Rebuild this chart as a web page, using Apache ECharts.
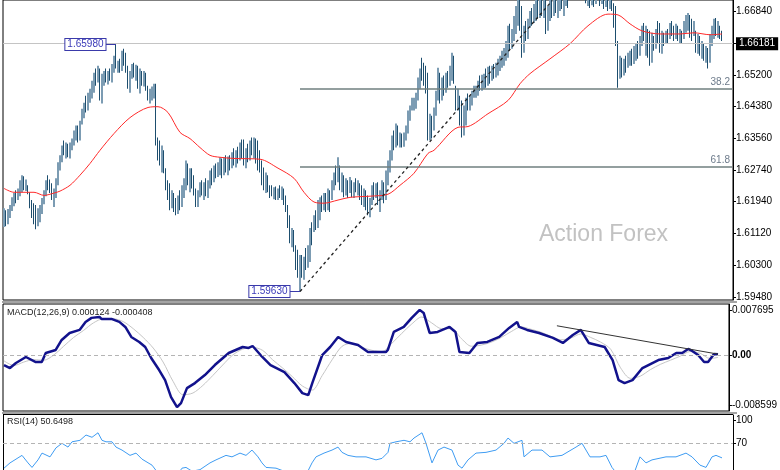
<!DOCTYPE html>
<html><head><meta charset="utf-8">
<script src="https://cdn.jsdelivr.net/npm/echarts@6/dist/echarts.min.js"></script>
<style>html,body{margin:0;padding:0;background:#fff}#c{width:780px;height:470px}</style>
</head><body><div id="c"></div>
<script>
// ---------- price bars (H/L/C, open = previous close) ----------
const firstOpen = 1.6141;
const highs = [
1.6177,1.6172,1.6175,1.6185,1.6205,1.6216,1.6223,1.6228,1.6249,1.6262,
1.6259,1.6251,1.6236,1.6218,1.6198,1.6190,1.6185,1.6177,1.6185,1.6203,
1.6223,1.6249,1.6262,1.6251,1.6241,1.6228,1.6254,1.6295,1.6313,1.6338,
1.6351,1.6346,1.6343,1.6346,1.6356,1.6377,1.6390,1.6390,1.6402,1.6433,
1.6448,1.6466,1.6474,1.6484,1.6505,1.6525,1.6536,1.6543,1.6536,1.6523,
1.6530,1.6536,1.6530,1.6536,1.6548,1.6569,1.6598,1.6556,1.6561,1.6582,
1.6587,1.6577,1.6543,1.6530,1.6548,1.6551,1.6546,1.6543,1.6536,1.6530,
1.6530,1.6525,1.6492,1.6484,1.6490,1.6497,1.6497,1.6359,1.6351,1.6338,
1.6326,1.6280,1.6249,1.6241,1.6223,1.6216,1.6203,1.6210,1.6223,1.6236,
1.6254,1.6300,1.6292,1.6280,1.6280,1.6262,1.6228,1.6223,1.6244,1.6249,
1.6244,1.6254,1.6249,1.6274,1.6280,1.6287,1.6292,1.6295,1.6308,1.6305,
1.6308,1.6313,1.6310,1.6313,1.6321,1.6331,1.6326,1.6335,1.6346,1.6354,
1.6354,1.6331,1.6343,1.6351,1.6359,1.6359,1.6356,1.6351,1.6326,1.6300,
1.6282,1.6269,1.6262,1.6236,1.6236,1.6231,1.6233,1.6228,1.6236,1.6233,
1.6228,1.6210,1.6185,1.6159,1.6126,1.6121,1.6082,1.6070,1.6057,1.6057,
1.6052,1.6075,1.6082,1.6126,1.6141,1.6159,1.6172,1.6198,1.6205,1.6210,
1.6216,1.6216,1.6228,1.6223,1.6249,1.6269,1.6287,1.6308,1.6287,1.6269,
1.6262,1.6254,1.6249,1.6257,1.6249,1.6244,1.6254,1.6249,1.6241,1.6236,
1.6228,1.6223,1.6210,1.6203,1.6236,1.6244,1.6241,1.6244,1.6223,1.6249,
1.6244,1.6274,1.6300,1.6326,1.6364,1.6377,1.6395,1.6390,1.6372,1.6369,
1.6372,1.6390,1.6428,1.6441,1.6461,1.6461,1.6474,1.6513,1.6536,1.6564,
1.6551,1.6543,1.6525,1.6420,1.6415,1.6436,1.6479,1.6538,1.6525,1.6513,
1.6518,1.6525,1.6530,1.6543,1.6577,1.6569,1.6492,1.6484,1.6466,1.6454,
1.6441,1.6461,1.6472,1.6466,1.6479,1.6492,1.6492,1.6505,1.6518,1.6520,
1.6523,1.6536,1.6541,1.6543,1.6543,1.6548,1.6551,1.6561,1.6569,1.6582,
1.6589,1.6607,1.6646,1.6651,1.6638,1.6671,1.6697,1.6715,1.6722,1.6697,
1.6646,1.6658,1.6664,1.6684,1.6692,1.6702,1.6717,1.6722,1.6730,1.6735,
1.6725,1.6715,1.6697,1.6715,1.6722,1.6725,1.6735,1.6730,1.6740,1.6748,
1.6740,1.6756,1.6761,1.6766,1.6776,1.6781,1.6786,1.6792,1.6781,1.6774,
1.6766,1.6756,1.6748,1.6740,1.6748,1.6751,1.6740,1.6756,1.6748,1.6745,
1.6740,1.6735,1.6730,1.6725,1.6720,1.6704,1.6697,1.6607,1.6569,1.6564,
1.6561,1.6569,1.6577,1.6582,1.6587,1.6594,1.6602,1.6607,1.6620,1.6646,
1.6653,1.6646,1.6638,1.6633,1.6628,1.6620,1.6638,1.6658,1.6653,1.6633,
1.6628,1.6633,1.6638,1.6653,1.6658,1.6646,1.6651,1.6646,1.6638,1.6633,
1.6658,1.6674,1.6679,1.6674,1.6664,1.6658,1.6633,1.6625,1.6620,1.6607,
1.6602,1.6594,1.6589,1.6625,1.6646,1.6664,1.6666,1.6658,1.6646,1.6633];
const lows = [
1.6129,1.6131,1.6136,1.6152,1.6170,1.6182,1.6190,1.6198,1.6208,1.6218,
1.6223,1.6221,1.6213,1.6177,1.6152,1.6136,1.6123,1.6131,1.6141,1.6162,
1.6187,1.6208,1.6223,1.6216,1.6198,1.6180,1.6203,1.6236,1.6274,1.6295,
1.6313,1.6305,1.6308,1.6305,1.6326,1.6338,1.6351,1.6346,1.6351,1.6392,
1.6408,1.6423,1.6428,1.6448,1.6459,1.6474,1.6492,1.6500,1.6454,1.6446,
1.6492,1.6500,1.6495,1.6505,1.6500,1.6525,1.6536,1.6525,1.6525,1.6530,
1.6543,1.6525,1.6484,1.6474,1.6510,1.6513,1.6505,1.6484,1.6472,1.6492,
1.6490,1.6479,1.6454,1.6446,1.6454,1.6459,1.6338,1.6300,1.6287,1.6269,
1.6267,1.6223,1.6198,1.6172,1.6177,1.6167,1.6159,1.6162,1.6172,1.6180,
1.6203,1.6223,1.6236,1.6218,1.6228,1.6210,1.6180,1.6180,1.6205,1.6210,
1.6198,1.6208,1.6203,1.6228,1.6236,1.6244,1.6254,1.6257,1.6262,1.6254,
1.6262,1.6269,1.6262,1.6274,1.6280,1.6287,1.6282,1.6292,1.6300,1.6305,
1.6287,1.6280,1.6295,1.6300,1.6313,1.6305,1.6292,1.6274,1.6269,1.6236,
1.6223,1.6216,1.6218,1.6203,1.6208,1.6200,1.6198,1.6198,1.6203,1.6198,
1.6185,1.6167,1.6126,1.6087,1.6077,1.6065,1.6018,1.5998,1.5963,1.5998,
1.5993,1.6018,1.6024,1.6039,1.6082,1.6116,1.6121,1.6126,1.6146,1.6167,
1.6172,1.6167,1.6172,1.6167,1.6198,1.6223,1.6236,1.6244,1.6223,1.6218,
1.6205,1.6210,1.6203,1.6216,1.6205,1.6203,1.6218,1.6210,1.6198,1.6185,
1.6180,1.6172,1.6159,1.6154,1.6185,1.6198,1.6203,1.6185,1.6167,1.6198,
1.6190,1.6198,1.6236,1.6269,1.6300,1.6326,1.6333,1.6338,1.6333,1.6333,
1.6335,1.6351,1.6369,1.6402,1.6428,1.6428,1.6433,1.6454,1.6484,1.6505,
1.6492,1.6472,1.6351,1.6351,1.6356,1.6377,1.6415,1.6454,1.6446,1.6454,
1.6466,1.6474,1.6487,1.6492,1.6505,1.6497,1.6428,1.6428,1.6390,1.6359,
1.6364,1.6390,1.6428,1.6428,1.6441,1.6461,1.6461,1.6466,1.6479,1.6479,
1.6484,1.6487,1.6492,1.6497,1.6505,1.6510,1.6513,1.6518,1.6530,1.6538,
1.6543,1.6556,1.6564,1.6582,1.6587,1.6607,1.6625,1.6646,1.6633,1.6564,
1.6577,1.6607,1.6612,1.6641,1.6646,1.6653,1.6658,1.6664,1.6666,1.6671,
1.6666,1.6625,1.6633,1.6658,1.6666,1.6671,1.6679,1.6666,1.6684,1.6689,
1.6671,1.6697,1.6692,1.6715,1.6722,1.6730,1.6735,1.6740,1.6730,1.6722,
1.6717,1.6704,1.6697,1.6692,1.6699,1.6694,1.6702,1.6715,1.6697,1.6702,
1.6689,1.6694,1.6684,1.6689,1.6684,1.6641,1.6594,1.6487,1.6510,1.6513,
1.6518,1.6525,1.6538,1.6543,1.6543,1.6548,1.6556,1.6561,1.6569,1.6594,
1.6607,1.6569,1.6564,1.6543,1.6551,1.6582,1.6587,1.6599,1.6577,1.6574,
1.6594,1.6599,1.6602,1.6612,1.6620,1.6607,1.6612,1.6607,1.6602,1.6602,
1.6612,1.6628,1.6633,1.6615,1.6607,1.6620,1.6577,1.6574,1.6569,1.6561,
1.6556,1.6551,1.6536,1.6551,1.6594,1.6612,1.6620,1.6615,1.6612,1.6607];
const closes = [
1.6167,1.6146,1.6167,1.6177,1.6198,1.6208,1.6200,1.6221,1.6241,1.6254,
1.6233,1.6244,1.6218,1.6185,1.6159,1.6146,1.6136,1.6167,1.6180,1.6195,
1.6218,1.6241,1.6233,1.6223,1.6205,1.6223,1.6246,1.6287,1.6305,1.6326,
1.6321,1.6338,1.6313,1.6333,1.6351,1.6369,1.6382,1.6356,1.6395,1.6413,
1.6441,1.6433,1.6466,1.6474,1.6495,1.6515,1.6505,1.6530,1.6466,1.6510,
1.6523,1.6510,1.6525,1.6518,1.6541,1.6556,1.6543,1.6548,1.6530,1.6574,
1.6551,1.6536,1.6492,1.6518,1.6541,1.6520,1.6538,1.6492,1.6525,1.6505,
1.6523,1.6484,1.6461,1.6477,1.6479,1.6484,1.6351,1.6326,1.6300,1.6321,
1.6274,1.6236,1.6210,1.6185,1.6210,1.6177,1.6167,1.6203,1.6182,1.6228,
1.6244,1.6287,1.6249,1.6269,1.6236,1.6223,1.6198,1.6216,1.6236,1.6218,
1.6236,1.6213,1.6241,1.6267,1.6249,1.6280,1.6262,1.6287,1.6300,1.6269,
1.6300,1.6280,1.6300,1.6285,1.6313,1.6300,1.6318,1.6305,1.6335,1.6326,
1.6295,1.6321,1.6305,1.6338,1.6326,1.6346,1.6300,1.6287,1.6280,1.6249,
1.6236,1.6254,1.6228,1.6223,1.6216,1.6223,1.6208,1.6218,1.6210,1.6223,
1.6193,1.6177,1.6134,1.6100,1.6113,1.6075,1.6031,1.6013,1.6039,1.6006,
1.6039,1.6031,1.6070,1.6116,1.6095,1.6152,1.6134,1.6185,1.6198,1.6177,
1.6208,1.6177,1.6218,1.6198,1.6239,1.6262,1.6249,1.6274,1.6236,1.6254,
1.6218,1.6244,1.6223,1.6244,1.6210,1.6236,1.6228,1.6241,1.6208,1.6198,
1.6218,1.6185,1.6172,1.6193,1.6228,1.6210,1.6233,1.6198,1.6210,1.6239,
1.6203,1.6262,1.6287,1.6313,1.6351,1.6338,1.6382,1.6351,1.6364,1.6343,
1.6361,1.6382,1.6420,1.6433,1.6438,1.6454,1.6466,1.6505,1.6525,1.6518,
1.6505,1.6479,1.6364,1.6408,1.6372,1.6428,1.6466,1.6525,1.6459,1.6505,
1.6479,1.6515,1.6495,1.6530,1.6561,1.6505,1.6441,1.6466,1.6402,1.6377,
1.6428,1.6454,1.6441,1.6459,1.6472,1.6479,1.6484,1.6495,1.6490,1.6510,
1.6515,1.6505,1.6530,1.6525,1.6536,1.6518,1.6543,1.6551,1.6561,1.6574,
1.6582,1.6594,1.6633,1.6594,1.6628,1.6658,1.6684,1.6697,1.6658,1.6582,
1.6633,1.6620,1.6653,1.6674,1.6658,1.6694,1.6704,1.6684,1.6710,1.6684,
1.6697,1.6638,1.6684,1.6702,1.6679,1.6710,1.6689,1.6710,1.6722,1.6710,
1.6722,1.6735,1.6710,1.6748,1.6761,1.6748,1.6774,1.6756,1.6740,1.6761,
1.6730,1.6715,1.6735,1.6710,1.6730,1.6704,1.6722,1.6735,1.6710,1.6725,
1.6704,1.6720,1.6697,1.6710,1.6694,1.6653,1.6607,1.6518,1.6530,1.6525,
1.6551,1.6536,1.6556,1.6569,1.6556,1.6587,1.6594,1.6577,1.6612,1.6638,
1.6620,1.6633,1.6582,1.6561,1.6607,1.6594,1.6628,1.6620,1.6594,1.6620,
1.6607,1.6625,1.6612,1.6646,1.6633,1.6620,1.6638,1.6615,1.6628,1.6612,
1.6648,1.6664,1.6669,1.6653,1.6620,1.6638,1.6587,1.6602,1.6582,1.6594,
1.6569,1.6582,1.6551,1.6612,1.6633,1.6653,1.6638,1.6646,1.6625,1.6618];

// moving average (red) read at selected bars: [bar, price]
const maPoints = [[0,1.6228],[5,1.6218],[15,1.6218],[20,1.6210],[25,1.6216],[28,1.6221],[33,1.6236],[38,1.6262],[43,1.6292],[48,1.6326],[55,1.6369],[63,1.6410],[72,1.6436],[77,1.6438],[82,1.6423],[88,1.6372],[93,1.6356],[98,1.6333],[103,1.6313],[108,1.6308],[115,1.6305],[128,1.6303],[137,1.6280],[145,1.6254],[150,1.6218],[155,1.6193],[160,1.6190],[167,1.6198],[173,1.6205],[183,1.6208],[192,1.6213],[198,1.6236],[205,1.6267],[212,1.6318],[215,1.6326],[227,1.6385],[232,1.6387],[242,1.6420],[252,1.6454],[258,1.6497],[263,1.6523],[273,1.6561],[283,1.6600],[292,1.6646],[302,1.6676],[307,1.6674],[313,1.6651],[319,1.6633],[328,1.6625],[338,1.6625],[345,1.6628],[353,1.6623],[359,1.6625]];

// MACD main & signal: [bar, value]
const macdMain = [[0,-0.00172],[3,-0.00223],[6,-0.00137],[11,-0.00034],[16,-0.00120],[19,-0.00120],[21,0.00034],[26,0.00086],[29,0.00257],[33,0.00377],[38,0.00429],[41,0.00566],[44,0.00635],[48,0.00652],[49,0.00617],[54,0.00617],[58,0.00566],[61,0.00480],[64,0.00309],[68,0.00223],[71,0.00137],[74,-0.00051],[78,-0.00257],[81,-0.00429],[84,-0.00720],[87,-0.00892],[89,-0.00823],[92,-0.00566],[96,-0.00480],[101,-0.00343],[106,-0.00172],[113,0.00034],[120,0.00137],[123,0.00120],[125,0.00154],[129,0.0],[134,-0.00172],[141,-0.00292],[146,-0.00480],[150,-0.00652],[153,-0.00686],[155,-0.00480],[160,0.0],[164,0.00137],[168,0.00309],[172,0.00223],[178,0.00172],[183,0.00051],[188,0.00051],[192,0.00051],[193,0.00086],[196,0.00394],[201,0.00480],[205,0.00635],[209,0.00772],[211,0.00720],[214,0.00377],[218,0.00394],[224,0.00480],[227,0.00394],[229,0.00051],[234,0.00034],[238,0.00206],[243,0.00223],[249,0.00309],[254,0.00463],[258,0.00566],[259,0.00480],[263,0.00429],[269,0.00377],[276,0.00292],[281,0.00206],[286,0.00343],[290,0.00429],[294,0.00206],[298,0.00172],[302,0.00137],[306,-0.00086],[309,-0.00429],[312,-0.00480],[316,-0.00429],[321,-0.00223],[326,-0.00137],[329,-0.00086],[334,-0.00051],[338,0.00034],[341,0.00034],[344,0.00103],[346,0.00069],[349,0.0],[352,-0.00120],[354,-0.00120],[357,0.00017],[359,0.000124]];
const macdSignal = [[0,-0.0010],[5,-0.0018],[10,-0.0012],[15,-0.0008],[20,-0.0009],[25,0.0000],[30,0.0015],[35,0.0030],[40,0.0042],[45,0.0055],[50,0.0062],[55,0.0062],[60,0.0057],[65,0.0045],[70,0.0030],[75,0.0012],[80,-0.0012],[85,-0.0045],[90,-0.0068],[95,-0.0065],[100,-0.0052],[105,-0.0035],[110,-0.0017],[115,0.0000],[120,0.0010],[125,0.0013],[130,0.0008],[135,-0.0008],[140,-0.0022],[145,-0.0037],[150,-0.0053],[155,-0.0060],[160,-0.0035],[165,-0.0008],[170,0.0015],[175,0.0020],[180,0.0013],[185,0.0008],[190,0.0006],[195,0.0020],[200,0.0037],[205,0.0053],[210,0.0065],[215,0.0055],[220,0.0045],[225,0.0045],[230,0.0028],[235,0.0015],[240,0.0017],[245,0.0022],[250,0.0030],[255,0.0040],[260,0.0048],[265,0.0044],[270,0.0039],[275,0.0032],[280,0.0026],[285,0.0029],[290,0.0036],[295,0.0030],[300,0.0022],[305,0.0010],[310,-0.0022],[315,-0.0040],[320,-0.0036],[325,-0.0025],[330,-0.0016],[335,-0.0009],[340,-0.0002],[345,0.0006],[350,0.0003],[355,-0.0006],[359,-0.000408]];

// RSI(14): [bar, value]
const rsiPoints = [[0,37],[3,44],[6,49],[9,54],[12,44],[14,38],[17,48],[19,57],[23,52],[26,64],[29,70],[32,65],[34,72],[38,74],[41,81],[44,78],[47,84],[49,74],[51,72],[54,72],[56,65],[59,61],[63,54],[66,57],[69,49],[74,41],[76,34],[78,25],[82,20],[85,22],[89,37],[91,38],[94,33],[98,35],[103,44],[106,48],[111,54],[114,52],[118,57],[121,54],[124,61],[127,52],[129,44],[131,38],[136,37],[140,33],[144,25],[148,18],[151,28],[154,44],[156,52],[160,57],[164,61],[167,65],[169,58],[172,54],[176,52],[181,52],[186,48],[189,50],[192,58],[193,70],[196,72],[200,74],[203,72],[205,77],[209,84],[211,70],[214,44],[217,61],[220,65],[224,61],[227,41],[229,37],[232,48],[236,57],[241,58],[246,61],[250,70],[252,77],[255,70],[259,74],[260,52],[264,61],[269,61],[273,52],[279,54],[286,65],[289,70],[293,52],[298,52],[301,54],[304,38],[307,28],[310,25],[315,30],[318,52],[321,44],[324,48],[331,52],[336,52],[341,57],[344,52],[348,41],[351,38],[354,52],[356,54],[359,50.65]];

// annotations (values)
const lastPrice = 1.66181;
const swingHigh = {bar: 56, price: 1.6598, text: '1.65980'};
const swingLow = {bar: 148, price: 1.5963, text: '1.59630'};
const trendEnd = {bar: 274, price: 1.6710};
const fibLevels = [{name:'38.2', price:1.6484},{name:'61.8', price:1.6283}];
const macdTrend = [[278, 0.0050],[359, 0.00015]];
const rsiLevel = 70;
const priceTicks = [1.5948,1.6030,1.6112,1.6194,1.6274,1.6356,1.6438,1.6520,1.6602,1.6684];
const macdTicks = [0.007695, 0, -0.008599];
const macdTickLabels = ['0.007695','{b|0.00}','-0.008599'];
const rsiTicks = [100, 70];
const macdTitle = 'MACD(12,26,9) 0.000124 -0.000408';
const rsiTitle = 'RSI(14) 50.6498';
const watermark = 'Action Forex';

// ---------- build ----------
const NCAT = 365;
const cats = Array.from({length: NCAT}, (_, i) => String(i));
const bars = closes.map((c, i) => [i, i === 0 ? firstOpen : closes[i - 1], c, lows[i], highs[i]]);

const FONT = 'Liberation Sans';
const UP = '#7c9cb3', DOWN = '#1d4e6e';

function yAxisBase(grid, min, max, ticks, fmt) {
  return {
    type: 'value', gridIndex: grid, position: 'right', min: min, max: max,
    splitLine: {show: false},
    axisLine: {show: true, lineStyle: {color: '#000', width: 1}},
    axisTick: {show: true, length: 3, customValues: ticks, lineStyle: {color: '#000'}},
    axisLabel: {customValues: ticks, formatter: fmt, color: '#000', fontSize: 10, fontFamily: FONT, margin: 3,
                rich: {b: {fontWeight: 'bold', fontSize: 10, fontFamily: FONT, color: '#000'}}}
  };
}
const xBase = g => ({type: 'category', gridIndex: g, data: cats, boundaryGap: true, show: false});

const mainMarks = [
  {yAxis: lastPrice, lineStyle: {color: '#c4c4c4', type: 'solid', width: 1},
   label: {show: true, position: 'end', distance: 3, formatter: lastPrice.toFixed(5),
           backgroundColor: '#000', color: '#fff', fontSize: 10, fontFamily: FONT, padding: [2, 3, 1, 3]}}
];
fibLevels.forEach(f => mainMarks.push([
  {coord: [swingLow.bar, f.price], lineStyle: {color: '#6f7f7f', width: 1.5, type: 'solid'},
   label: {show: true, position: 'insideEndTop', formatter: f.name, color: '#6d7b8b', fontSize: 10, fontFamily: FONT, distance: 2}},
  {coord: [NCAT - 1, f.price]}
]));
mainMarks.push([
  {coord: [swingLow.bar, swingLow.price], lineStyle: {color: '#222', width: 1.3, type: [3, 3]}, label: {show: false}},
  {coord: [trendEnd.bar, trendEnd.price]}
]);
[swingHigh, swingLow].forEach(p => mainMarks.push([
  {coord: [p.bar - 5, p.price], lineStyle: {color: '#3a3aaa', width: 1, type: 'solid'}, label: {show: false}},
  {coord: [p.bar, p.price]}
]));
const boxPoints = [swingHigh, swingLow].map(p => ({
  coord: [p.bar - 5, p.price], symbolSize: 1, itemStyle: {color: 'rgba(0,0,0,0)'},
  label: {show: true, position: 'left', distance: 0, formatter: p.text,
          backgroundColor: '#ffffff', borderColor: '#3a3aaa', borderWidth: 1,
          color: '#3a3ab8', fontSize: 10, fontFamily: FONT, padding: [1, 2, 0, 2]}
}));

const chart = echarts.init(document.getElementById('c'), null, {renderer: 'canvas'});
chart.setOption({
  animation: false,
  backgroundColor: '#fff',
  grid: [
    {left: 3, top: -1, width: 730, height: 301, show: true, borderColor: '#000', borderWidth: 1},
    {left: 3, top: 304, width: 730, height: 107, show: true, borderColor: '#000', borderWidth: 1},
    {left: 3, top: 415, width: 730, height: 55, show: false}
  ],
  xAxis: [xBase(0), xBase(1), xBase(2)],
  yAxis: [
    yAxisBase(0, 1.59411, 1.67123, priceTicks, v => v.toFixed(5)),
    yAxisBase(1, -0.009577, 0.008724, macdTicks, v => {
      let k = macdTicks.findIndex(t => Math.abs(t - v) < 1e-9); return k >= 0 ? macdTickLabels[k] : '';
    }),
    yAxisBase(2, 34.56, 107.6, rsiTicks, v => String(v))
  ],
  series: [
    {type: 'custom', xAxisIndex: 0, yAxisIndex: 0, data: bars, clip: true,
     encode: {x: 0, y: [1, 2, 3, 4]},
     renderItem: function (params, api) {
       const o = api.value(1), c = api.value(2);
       const top = api.coord([api.value(0), api.value(4)]);
       const bot = api.coord([api.value(0), api.value(3)]);
       const up = c >= o;
       const w = up ? 2 : 1;
       return {type: 'rect',
         shape: {x: Math.round(top[0]) - 1, y: top[1], width: w, height: Math.max(1, bot[1] - top[1])},
         style: {fill: up ? UP : DOWN}};
     }},
    {type: 'line', xAxisIndex: 0, yAxisIndex: 0, data: maPoints, showSymbol: false, smooth: 0.3,
     lineStyle: {color: '#ff2a2a', width: 1}, z: 3,
     markLine: {silent: true, symbol: ['none', 'none'], animation: false, data: mainMarks},
     markPoint: {silent: true, symbol: 'rect', animation: false, data: boxPoints}},
    {type: 'line', xAxisIndex: 1, yAxisIndex: 1, data: macdSignal, showSymbol: false, smooth: 0.3,
     lineStyle: {color: '#c6c6c6', width: 1},
     markLine: {silent: true, symbol: ['none', 'none'], label: {show: false},
       data: [{yAxis: 0, lineStyle: {color: '#b4b4b4', type: [4, 3], width: 1}}]}},
    {type: 'line', xAxisIndex: 1, yAxisIndex: 1, data: macdMain, showSymbol: false,
     lineStyle: {color: '#12128c', width: 2.5}, z: 4,
     markLine: {silent: true, symbol: ['none', 'none'], label: {show: false},
       data: [[{coord: macdTrend[0], lineStyle: {color: '#333', width: 1, type: 'solid'}}, {coord: macdTrend[1]}]]}},
    {type: 'line', xAxisIndex: 2, yAxisIndex: 2, data: rsiPoints, showSymbol: false, clip: true,
     lineStyle: {color: '#3f9cf2', width: 1},
     markLine: {silent: true, symbol: ['none', 'none'], label: {show: false},
       data: [{yAxis: rsiLevel, lineStyle: {color: '#b4b4b4', type: [4, 3], width: 1}}]}}
  ],
  graphic: [
    {type: 'rect', shape: {x: 2, y: 301, width: 735, height: 2}, style: {fill: '#a4a4a4'}, silent: true},
    {type: 'rect', shape: {x: 2, y: 412, width: 735, height: 2}, style: {fill: '#a4a4a4'}, silent: true},
    {type: 'line', shape: {x1: 3.5, y1: 414.5, x2: 3.5, y2: 470}, style: {stroke: '#000', lineWidth: 1}, silent: true},
    {type: 'line', shape: {x1: 3, y1: 414.5, x2: 733, y2: 414.5}, style: {stroke: '#000', lineWidth: 1}, silent: true},
    {type: 'text', left: 539, top: 223, style: {text: watermark, font: '23px "Liberation Sans"', fill: '#c2c2c2'}, z: 0},
    {type: 'text', left: 7, top: 308, style: {text: macdTitle, font: '9px "Liberation Sans"', fill: '#222'}},
    {type: 'text', left: 7, top: 417, style: {text: rsiTitle, font: '9px "Liberation Sans"', fill: '#222'}}
  ]
});
</script></body></html>
